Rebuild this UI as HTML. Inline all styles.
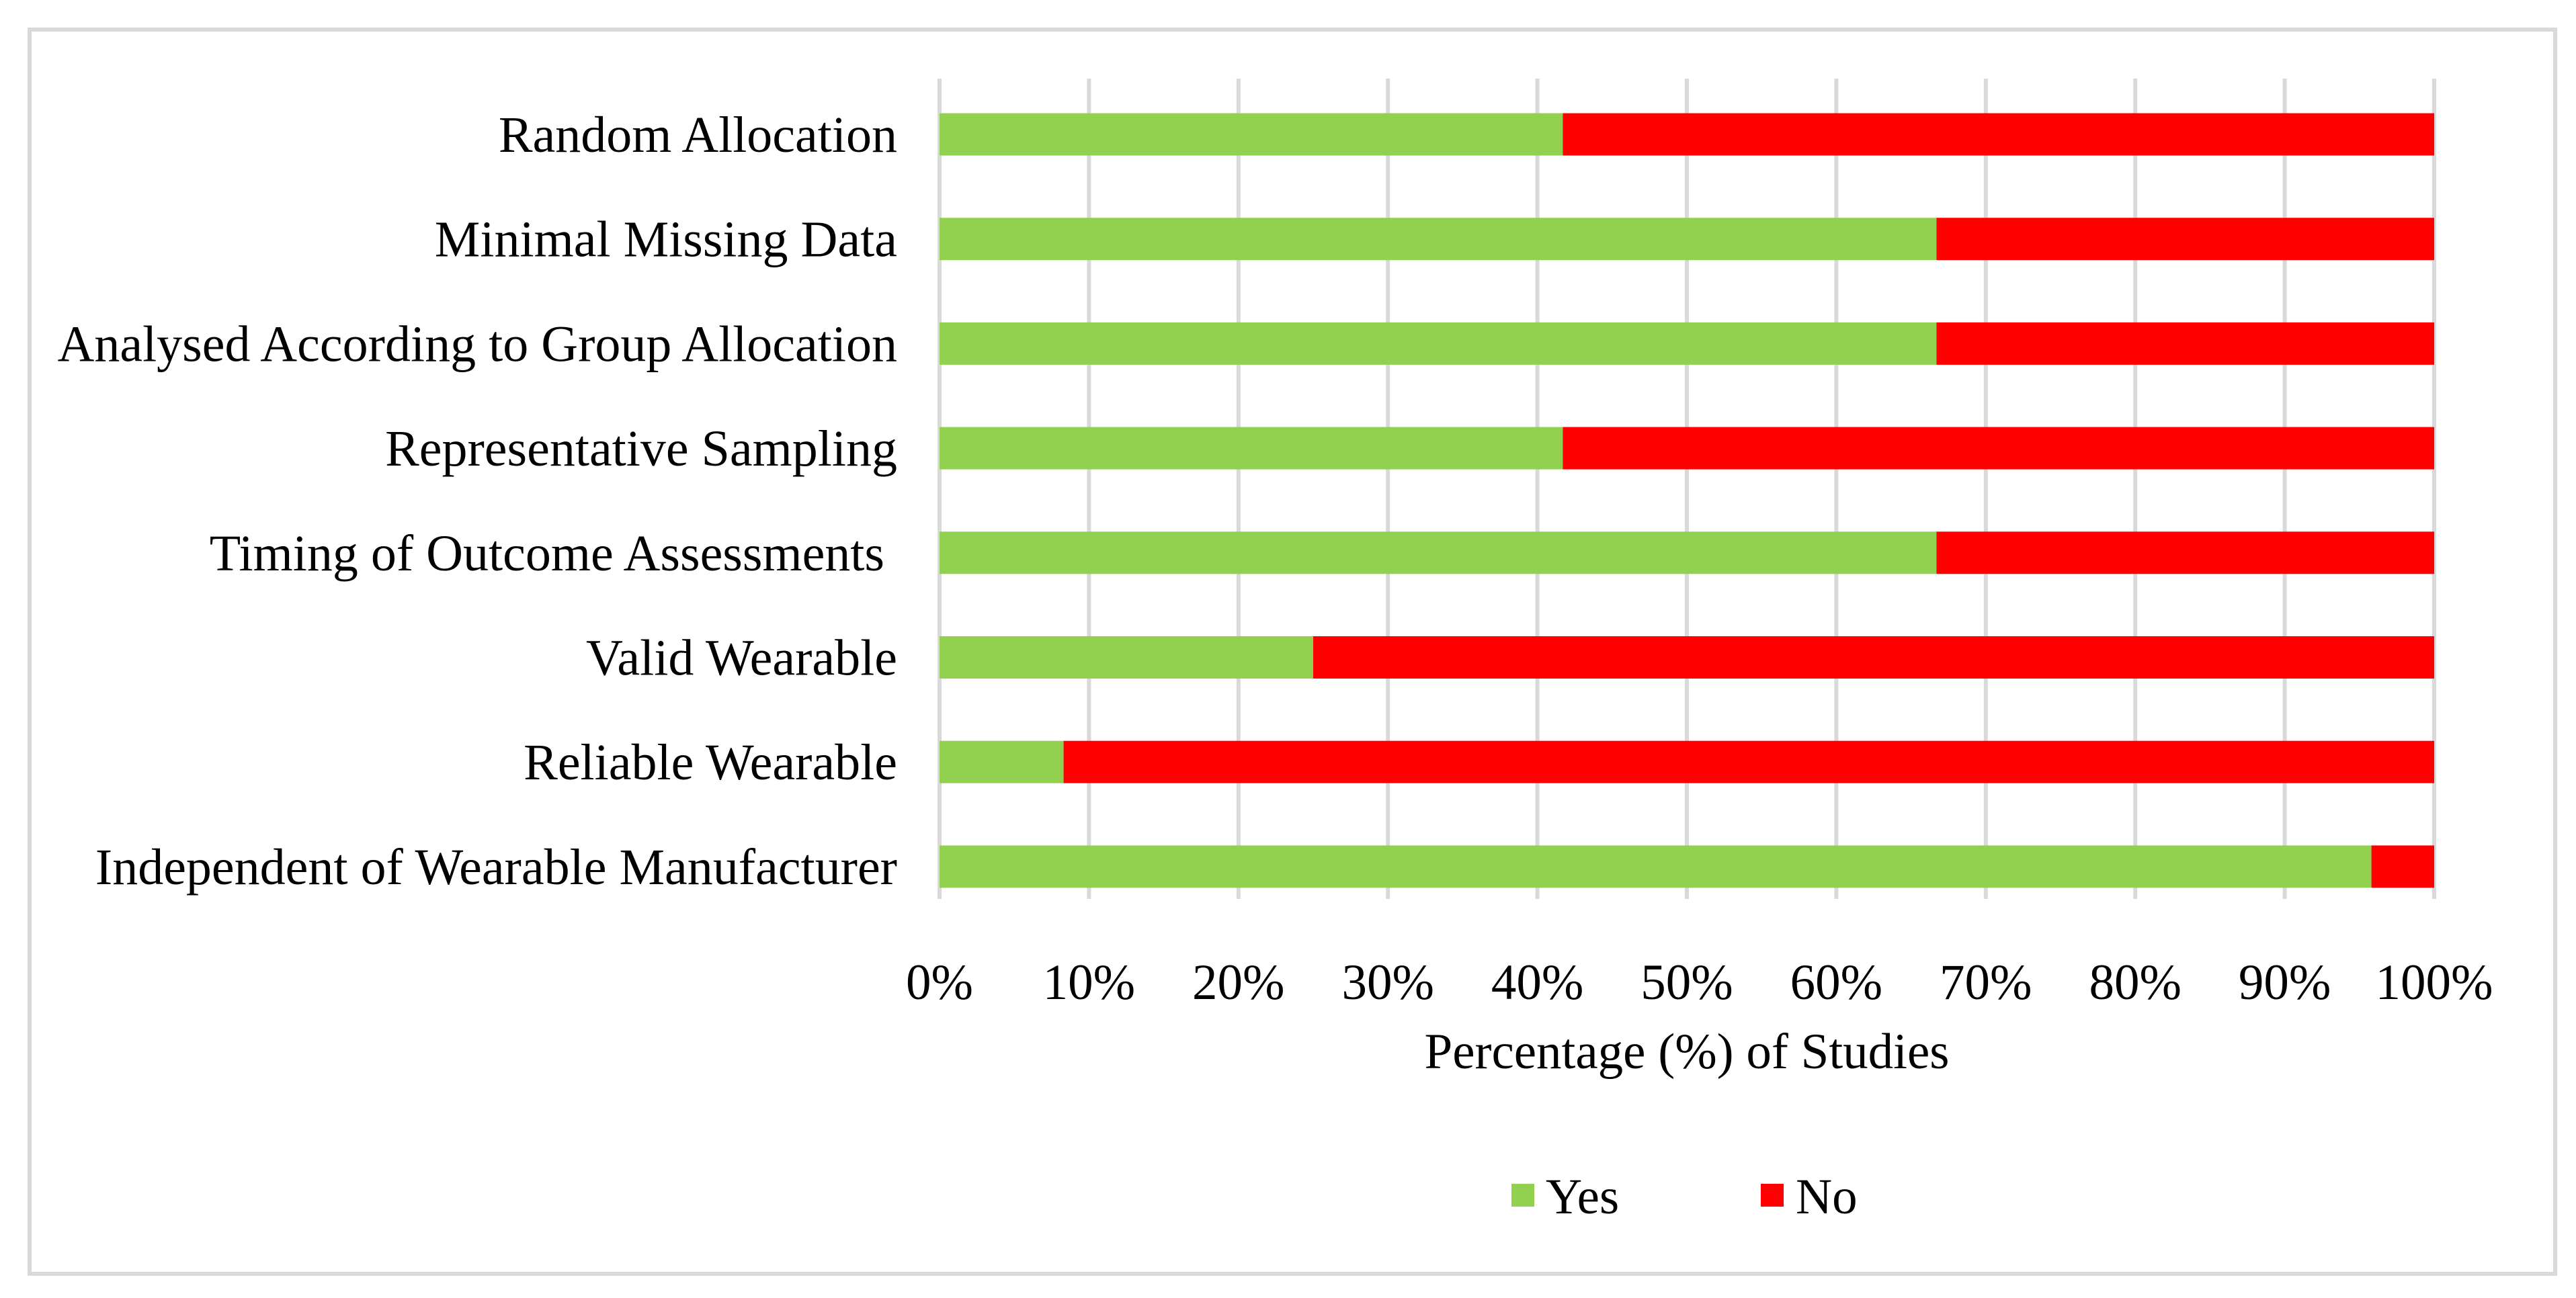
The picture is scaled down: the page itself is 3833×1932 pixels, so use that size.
<!DOCTYPE html>
<html><head><meta charset="utf-8"><style>
html,body{margin:0;padding:0;background:#fff;}
svg{display:block;font-family:"Liberation Serif","Times New Roman",serif;}
text{white-space:pre;}
</style></head><body>
<svg id="chart" width="3833" height="1932" viewBox="0 0 3833 1932" xmlns="http://www.w3.org/2000/svg">
<rect x="44" y="44" width="3758" height="1852" fill="#fff" stroke="#d9d9d9" stroke-width="6"/>
<g id="grid"></g><g id="bars"></g><g id="labels"></g>
<text x="2510" y="1590" font-size="75" text-anchor="middle">Percentage (%) of Studies</text>
<g>
<rect x="2249" y="1762" width="34" height="34" fill="#92d050"/>
<text x="2300" y="1806" font-size="75">Yes</text>
<rect x="2620" y="1762" width="34" height="34" fill="#ff0000"/>
<text x="2672" y="1806" font-size="75">No</text>
</g>
</svg>
<script>
const categories=["Random Allocation","Minimal Missing Data","Analysed According to Group Allocation","Representative Sampling","Timing of Outcome Assessments ","Valid Wearable","Reliable Wearable","Independent of Wearable Manufacturer"];
const yesValues=[41.7,66.7,66.7,41.7,66.7,25,8.3,95.8];
const noValues=[58.3,33.3,33.3,58.3,33.3,75,91.7,4.2];
const tickValues=[0,10,20,30,40,50,60,70,80,90,100];
const tickLabels=["0%","10%","20%","30%","40%","50%","60%","70%","80%","90%","100%"];
const NS="http://www.w3.org/2000/svg";
const x0=1398,x1=3622,yTop=117,yBot=1338,firstC=200,stepC=155.7,barH=63;
function xs(v){return x0+(x1-x0)*v/100;}
function yc(i){return firstC+stepC*i;}
const grid=document.getElementById('grid'),bars=document.getElementById('bars'),labels=document.getElementById('labels');
tickValues.forEach((t,i)=>{
  const l=document.createElementNS(NS,'line');
  
  
  l.setAttribute('x1',xs(t));l.setAttribute('x2',xs(t));l.setAttribute('y1',yTop);l.setAttribute('y2',yBot);
  l.setAttribute('stroke','#d9d9d9');l.setAttribute('stroke-width','6');
  grid.appendChild(l);
  const tx=document.createElementNS(NS,'text');
  
  
  tx.setAttribute('x',xs(t));tx.setAttribute('y',1487);tx.setAttribute('font-size','75');tx.setAttribute('text-anchor','middle');
  tx.textContent=tickLabels[i];
  labels.appendChild(tx);
});
categories.forEach((c,i)=>{
  const y=yc(i)-barH/2;
  const a=document.createElementNS(NS,'rect');
  
  
  a.setAttribute('x',xs(0));a.setAttribute('y',y);a.setAttribute('width',xs(yesValues[i])-xs(0));a.setAttribute('height',barH);a.setAttribute('fill','#92d050');
  bars.appendChild(a);
  const b=document.createElementNS(NS,'rect');
  
  
  b.setAttribute('x',xs(yesValues[i]));b.setAttribute('y',y);b.setAttribute('width',xs(yesValues[i]+noValues[i])-xs(yesValues[i]));b.setAttribute('height',barH);b.setAttribute('fill','#ff0000');
  bars.appendChild(b);
  const t=document.createElementNS(NS,'text');
  
  
  t.setAttribute('x',1335);t.setAttribute('y',yc(i)+26);t.setAttribute('font-size','76');t.setAttribute('text-anchor','end');
  t.textContent=c;
  labels.appendChild(t);
});
</script>
</body></html>
